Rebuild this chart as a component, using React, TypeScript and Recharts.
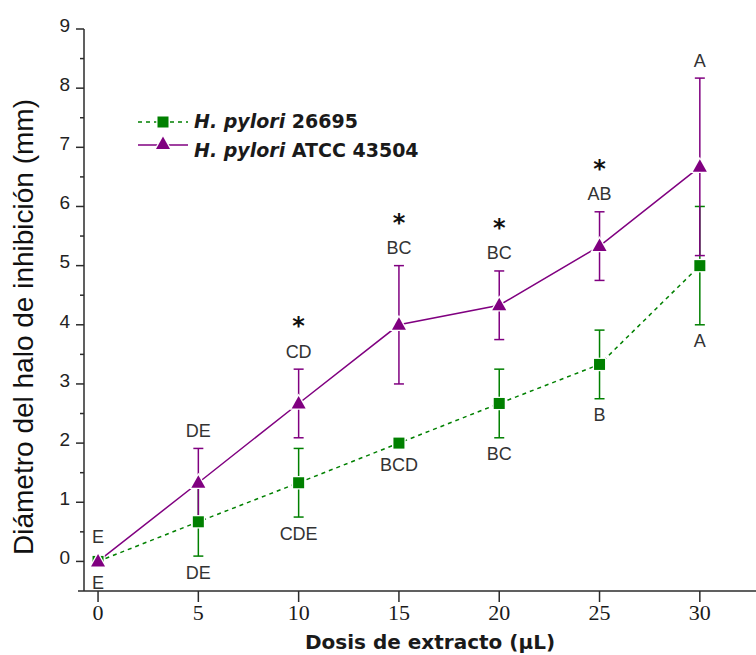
import React from 'react';
import { ComposedChart, Line, XAxis, YAxis, ErrorBar, LabelList } from 'recharts';

// Dosis de extracto (µL)
const doses = [0, 5, 10, 15, 20, 25, 30];

// H. pylori 26695
const halo26695 = [0, 0.67, 1.33, 2.0, 2.67, 3.33, 5.0];
const sd26695 = [0, 0.58, 0.58, 0, 0.58, 0.58, 1.0];
const groups26695 = ['E', 'DE', 'CDE', 'BCD', 'BC', 'B', 'A'];

// H. pylori ATCC 43504
const halo43504 = [0, 1.33, 2.67, 4.0, 4.33, 5.33, 6.67];
const sd43504 = [0, 0.58, 0.58, 1.0, 0.58, 0.58, 1.5];
const groups43504 = ['E', 'DE', 'CD', 'BC', 'BC', 'AB', 'A'];
const significant = ['', '', '*', '*', '*', '*', ''];

const xTicks = [0, 5, 10, 15, 20, 25, 30];
const yTicks = [0, 0.5, 1, 1.5, 2, 2.5, 3, 3.5, 4, 4.5, 5, 5.5, 6, 6.5, 7, 7.5, 8, 8.5, 9];

const GREEN = '#008000';
const PURPLE = '#800080';
const AXIS = '#2b2b2b';
const LABEL = '#333333';
const SANS = '"Liberation Sans", Arial, sans-serif';
const BOLD = '"DejaVu Sans", Verdana, sans-serif';

const data = doses.map((dose, i) => ({
  dose,
  g: halo26695[i],
  gErr: sd26695[i],
  gLow: halo26695[i] - sd26695[i],
  gGroup: groups26695[i],
  p: halo43504[i],
  pErr: sd43504[i],
  pHigh: halo43504[i] + sd43504[i],
  pGroup: groups43504[i],
}));

const SquareDot = (props: any) => {
  const { cx, cy } = props;
  if (cx == null || cy == null) return null;
  return (
    <rect
      x={cx - 5.5}
      y={cy - 5.5}
      width={11}
      height={11}
      fill={GREEN}
      stroke="#fff"
      strokeWidth={2.5}
      paintOrder="stroke"
    />
  );
};

const TriangleDot = (props: any) => {
  const { cx, cy } = props;
  if (cx == null || cy == null) return null;
  return (
    <path
      d={`M${cx},${cy - 7.5} L${cx + 7},${cy + 5} L${cx - 7},${cy + 5} Z`}
      fill={PURPLE}
      stroke="#fff"
      strokeWidth={2.5}
      paintOrder="stroke"
    />
  );
};

const PurpleGroupLabel = (props: any) => {
  const { x, y, index } = props;
  const lift = sd43504[index] === 0 ? 25 : 18;
  const cy = y - lift;
  return (
    <g>
      <text
        x={x}
        y={cy}
        dy="0.36em"
        textAnchor="middle"
        fontFamily={SANS}
        fontSize={18}
        fill={LABEL}
      >
        {groups43504[index]}
      </text>
      {significant[index] && (
        <text
          x={x}
          y={cy - 17}
          textAnchor="middle"
          fontFamily={BOLD}
          fontWeight="bold"
          fontSize={24}
          fill="#111"
        >
          {significant[index]}
        </text>
      )}
    </g>
  );
};

const GreenGroupLabel = (props: any) => {
  const { x, y, index } = props;
  const drop = sd26695[index] === 0 ? 21 : 16;
  return (
    <text
      x={x}
      y={y + drop}
      dy="0.36em"
      textAnchor="middle"
      fontFamily={SANS}
      fontSize={18}
      fill={LABEL}
    >
      {groups26695[index]}
    </text>
  );
};

const YTick = (props: any) => {
  const { x, y, payload } = props;
  const major = Number.isInteger(payload.value);
  return (
    <g>
      <line x1={x - (major ? 8 : 4)} x2={x} y1={y} y2={y} stroke={AXIS} strokeWidth={1.5} />
      {major && (
        <text
          x={x - 14}
          y={y - 4}
          dy="0.36em"
          textAnchor="end"
          fontFamily={SANS}
          fontSize={19}
          fill="#222"
        >
          {payload.value}
        </text>
      )}
    </g>
  );
};

const Legend = () => (
  <svg
    width={756}
    height={655}
    style={{ position: 'absolute', left: 0, top: 0, pointerEvents: 'none' }}
  >
    <line x1={78} x2={84} y1={591} y2={591} stroke={AXIS} strokeWidth={1.5} />
    <line x1={138} x2={188} y1={122} y2={122} stroke={GREEN} strokeWidth={1.5} strokeDasharray="4 4" />
    <SquareDot cx={163} cy={122} />
    <text x={194} y={121} dy="0.36em" fontFamily={BOLD} fontWeight="bold" fontSize={19} fill="#1a1a1a">
      <tspan fontStyle="italic">H. pylori</tspan> 26695
    </text>
    <line x1={138} x2={188} y1={145} y2={145} stroke={PURPLE} strokeWidth={1.5} />
    <TriangleDot cx={163} cy={144} />
    <text x={194} y={150} dy="0.36em" fontFamily={BOLD} fontWeight="bold" fontSize={19} fill="#1a1a1a">
      <tspan fontStyle="italic">H. pylori</tspan> ATCC 43504
    </text>
  </svg>
);

export default function App() {
  return (
    <div style={{ position: 'absolute', left: 0, top: 0, width: 756, height: 655, background: '#fff' }}>
      <ComposedChart
        width={756}
        height={655}
        data={data}
        margin={{ top: 29, right: 0, bottom: 0, left: 0 }}
      >
        <XAxis
          type="number"
          dataKey="dose"
          domain={[-0.7, 32.8]}
          ticks={xTicks}
          height={64}
          tickSize={11}
          tickMargin={2}
          axisLine={{ stroke: AXIS, strokeWidth: 1.5 }}
          tickLine={{ stroke: AXIS, strokeWidth: 1.5 }}
          tick={{ fontFamily: '"Liberation Serif", serif', fontSize: 22, fill: '#1a1a1a' }}
          label={{
            content: () => (
              <text
                x={430}
                y={649}
                textAnchor="middle"
                fontFamily={BOLD}
                fontWeight="bold"
                fontSize={20}
                fill="#1a1a1a"
              >
                Dosis de extracto (µL)
              </text>
            ),
          }}
        />
        <YAxis
          type="number"
          domain={[-0.5, 9]}
          ticks={yTicks}
          width={84}
          tickSize={0}
          tickMargin={0}
          tickLine={false}
          axisLine={{ stroke: AXIS, strokeWidth: 1.5 }}
          tick={<YTick />}
          interval={0}
          label={{
            content: () => (
              <text
                transform="translate(33,327) rotate(-90)"
                textAnchor="middle"
                fontFamily={SANS}
                fontSize={28}
                fill="#111"
              >
                Diámetro del halo de inhibición (mm)
              </text>
            ),
          }}
        />
        <Line
          dataKey="g"
          stroke={GREEN}
          strokeWidth={1.5}
          strokeDasharray="4 4"
          dot={<SquareDot />}
          activeDot={false}
          isAnimationActive={false}
        >
          <ErrorBar dataKey="gErr" width={5} stroke={GREEN} strokeWidth={1.5} direction="y" />
        </Line>
        <Line
          dataKey="p"
          stroke={PURPLE}
          strokeWidth={1.5}
          dot={<TriangleDot />}
          activeDot={false}
          isAnimationActive={false}
        >
          <ErrorBar dataKey="pErr" width={5} stroke={PURPLE} strokeWidth={1.5} direction="y" />
        </Line>
        <Line
          dataKey="gLow"
          stroke="none"
          dot={false}
          activeDot={false}
          isAnimationActive={false}
        >
          <LabelList dataKey="gGroup" content={<GreenGroupLabel />} />
        </Line>
        <Line
          dataKey="pHigh"
          stroke="none"
          dot={false}
          activeDot={false}
          isAnimationActive={false}
        >
          <LabelList dataKey="pGroup" content={<PurpleGroupLabel />} />
        </Line>
      </ComposedChart>
      <Legend />
    </div>
  );
}
